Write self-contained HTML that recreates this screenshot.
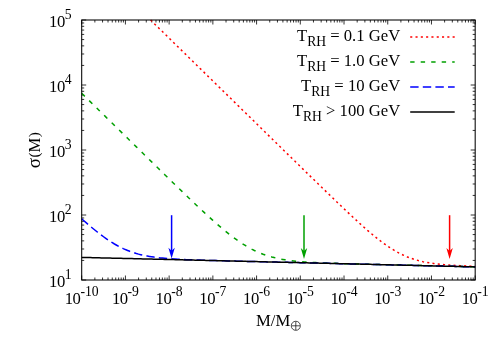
<!DOCTYPE html>
<html><head><meta charset="utf-8"><title>plot</title>
<style>html,body{margin:0;padding:0;background:#fff;}body{width:500px;height:350px;overflow:hidden;font-family:"Liberation Serif",serif;}</style>
</head><body>
<svg width="500" height="350" viewBox="0 0 500 350" style="display:block">
<defs><filter id="gf" x="0" y="0" width="500" height="350" filterUnits="userSpaceOnUse" color-interpolation-filters="sRGB"><feOffset dx="0" dy="0"/></filter></defs>
<rect width="500" height="350" fill="#fff"/>
<path d="M81.70,280.00v-4.50 M81.70,20.00v4.50 M94.86,280.00v-2.50 M94.86,20.00v2.50 M102.56,280.00v-2.50 M102.56,20.00v2.50 M108.02,280.00v-2.50 M108.02,20.00v2.50 M112.26,280.00v-2.50 M112.26,20.00v2.50 M115.72,280.00v-2.50 M115.72,20.00v2.50 M118.65,280.00v-2.50 M118.65,20.00v2.50 M121.18,280.00v-2.50 M121.18,20.00v2.50 M123.42,280.00v-2.50 M123.42,20.00v2.50 M125.42,280.00v-4.50 M125.42,20.00v4.50 M138.58,280.00v-2.50 M138.58,20.00v2.50 M146.28,280.00v-2.50 M146.28,20.00v2.50 M151.74,280.00v-2.50 M151.74,20.00v2.50 M155.98,280.00v-2.50 M155.98,20.00v2.50 M159.44,280.00v-2.50 M159.44,20.00v2.50 M162.37,280.00v-2.50 M162.37,20.00v2.50 M164.90,280.00v-2.50 M164.90,20.00v2.50 M167.14,280.00v-2.50 M167.14,20.00v2.50 M169.14,280.00v-4.50 M169.14,20.00v4.50 M182.30,280.00v-2.50 M182.30,20.00v2.50 M190.00,280.00v-2.50 M190.00,20.00v2.50 M195.46,280.00v-2.50 M195.46,20.00v2.50 M199.70,280.00v-2.50 M199.70,20.00v2.50 M203.16,280.00v-2.50 M203.16,20.00v2.50 M206.09,280.00v-2.50 M206.09,20.00v2.50 M208.62,280.00v-2.50 M208.62,20.00v2.50 M210.86,280.00v-2.50 M210.86,20.00v2.50 M212.86,280.00v-4.50 M212.86,20.00v4.50 M226.02,280.00v-2.50 M226.02,20.00v2.50 M233.72,280.00v-2.50 M233.72,20.00v2.50 M239.18,280.00v-2.50 M239.18,20.00v2.50 M243.42,280.00v-2.50 M243.42,20.00v2.50 M246.88,280.00v-2.50 M246.88,20.00v2.50 M249.81,280.00v-2.50 M249.81,20.00v2.50 M252.34,280.00v-2.50 M252.34,20.00v2.50 M254.58,280.00v-2.50 M254.58,20.00v2.50 M256.58,280.00v-4.50 M256.58,20.00v4.50 M269.74,280.00v-2.50 M269.74,20.00v2.50 M277.44,280.00v-2.50 M277.44,20.00v2.50 M282.90,280.00v-2.50 M282.90,20.00v2.50 M287.14,280.00v-2.50 M287.14,20.00v2.50 M290.60,280.00v-2.50 M290.60,20.00v2.50 M293.53,280.00v-2.50 M293.53,20.00v2.50 M296.06,280.00v-2.50 M296.06,20.00v2.50 M298.30,280.00v-2.50 M298.30,20.00v2.50 M300.30,280.00v-4.50 M300.30,20.00v4.50 M313.46,280.00v-2.50 M313.46,20.00v2.50 M321.16,280.00v-2.50 M321.16,20.00v2.50 M326.62,280.00v-2.50 M326.62,20.00v2.50 M330.86,280.00v-2.50 M330.86,20.00v2.50 M334.32,280.00v-2.50 M334.32,20.00v2.50 M337.25,280.00v-2.50 M337.25,20.00v2.50 M339.78,280.00v-2.50 M339.78,20.00v2.50 M342.02,280.00v-2.50 M342.02,20.00v2.50 M344.02,280.00v-4.50 M344.02,20.00v4.50 M357.18,280.00v-2.50 M357.18,20.00v2.50 M364.88,280.00v-2.50 M364.88,20.00v2.50 M370.34,280.00v-2.50 M370.34,20.00v2.50 M374.58,280.00v-2.50 M374.58,20.00v2.50 M378.04,280.00v-2.50 M378.04,20.00v2.50 M380.97,280.00v-2.50 M380.97,20.00v2.50 M383.50,280.00v-2.50 M383.50,20.00v2.50 M385.74,280.00v-2.50 M385.74,20.00v2.50 M387.74,280.00v-4.50 M387.74,20.00v4.50 M400.90,280.00v-2.50 M400.90,20.00v2.50 M408.60,280.00v-2.50 M408.60,20.00v2.50 M414.06,280.00v-2.50 M414.06,20.00v2.50 M418.30,280.00v-2.50 M418.30,20.00v2.50 M421.76,280.00v-2.50 M421.76,20.00v2.50 M424.69,280.00v-2.50 M424.69,20.00v2.50 M427.22,280.00v-2.50 M427.22,20.00v2.50 M429.46,280.00v-2.50 M429.46,20.00v2.50 M431.46,280.00v-4.50 M431.46,20.00v4.50 M444.62,280.00v-2.50 M444.62,20.00v2.50 M452.32,280.00v-2.50 M452.32,20.00v2.50 M457.78,280.00v-2.50 M457.78,20.00v2.50 M462.02,280.00v-2.50 M462.02,20.00v2.50 M465.48,280.00v-2.50 M465.48,20.00v2.50 M468.41,280.00v-2.50 M468.41,20.00v2.50 M470.94,280.00v-2.50 M470.94,20.00v2.50 M473.18,280.00v-2.50 M473.18,20.00v2.50 M475.18,280.00v-4.50 M475.18,20.00v4.50 M81.70,280.00h4.50 M475.18,280.00h-4.50 M81.70,260.43h2.50 M475.18,260.43h-2.50 M81.70,248.99h2.50 M475.18,248.99h-2.50 M81.70,240.87h2.50 M475.18,240.87h-2.50 M81.70,234.57h2.50 M475.18,234.57h-2.50 M81.70,229.42h2.50 M475.18,229.42h-2.50 M81.70,225.07h2.50 M475.18,225.07h-2.50 M81.70,221.30h2.50 M475.18,221.30h-2.50 M81.70,217.97h2.50 M475.18,217.97h-2.50 M81.70,215.00h4.50 M475.18,215.00h-4.50 M81.70,195.43h2.50 M475.18,195.43h-2.50 M81.70,183.99h2.50 M475.18,183.99h-2.50 M81.70,175.87h2.50 M475.18,175.87h-2.50 M81.70,169.57h2.50 M475.18,169.57h-2.50 M81.70,164.42h2.50 M475.18,164.42h-2.50 M81.70,160.07h2.50 M475.18,160.07h-2.50 M81.70,156.30h2.50 M475.18,156.30h-2.50 M81.70,152.97h2.50 M475.18,152.97h-2.50 M81.70,150.00h4.50 M475.18,150.00h-4.50 M81.70,130.43h2.50 M475.18,130.43h-2.50 M81.70,118.99h2.50 M475.18,118.99h-2.50 M81.70,110.87h2.50 M475.18,110.87h-2.50 M81.70,104.57h2.50 M475.18,104.57h-2.50 M81.70,99.42h2.50 M475.18,99.42h-2.50 M81.70,95.07h2.50 M475.18,95.07h-2.50 M81.70,91.30h2.50 M475.18,91.30h-2.50 M81.70,87.97h2.50 M475.18,87.97h-2.50 M81.70,85.00h4.50 M475.18,85.00h-4.50 M81.70,65.43h2.50 M475.18,65.43h-2.50 M81.70,53.99h2.50 M475.18,53.99h-2.50 M81.70,45.87h2.50 M475.18,45.87h-2.50 M81.70,39.57h2.50 M475.18,39.57h-2.50 M81.70,34.42h2.50 M475.18,34.42h-2.50 M81.70,30.07h2.50 M475.18,30.07h-2.50 M81.70,26.30h2.50 M475.18,26.30h-2.50 M81.70,22.97h2.50 M475.18,22.97h-2.50 M81.70,20.00h4.50 M475.18,20.00h-4.50" stroke="#000" stroke-width="0.8" fill="none"/>
<g fill="none" stroke-width="1.5">
<path d="M150.54,20.00 L151.65,21.08 L153.84,23.22 L156.02,25.36 L158.21,27.50 L160.40,29.64 L162.58,31.78 L164.77,33.91 L166.95,36.05 L169.14,38.19 L171.33,40.33 L173.51,42.47 L175.70,44.61 L177.88,46.74 L180.07,48.88 L182.26,51.02 L184.44,53.16 L186.63,55.30 L188.81,57.44 L191.00,59.57 L193.19,61.71 L195.37,63.85 L197.56,65.99 L199.74,68.13 L201.93,70.27 L204.12,72.41 L206.30,74.54 L208.49,76.68 L210.67,78.82 L212.86,80.96 L215.05,83.10 L217.23,85.24 L219.42,87.37 L221.60,89.51 L223.79,91.65 L225.98,93.79 L228.16,95.93 L230.35,98.07 L232.53,100.20 L234.72,102.34 L236.91,104.48 L239.09,106.62 L241.28,108.76 L243.46,110.90 L245.65,113.03 L247.84,115.17 L250.02,117.31 L252.21,119.45 L254.39,121.59 L256.58,123.73 L258.77,125.86 L260.95,128.00 L263.14,130.14 L265.32,132.28 L267.51,134.42 L269.70,136.55 L271.88,138.69 L274.07,140.83 L276.25,142.97 L278.44,145.10 L280.63,147.24 L282.81,149.38 L285.00,151.51 L287.18,153.65 L289.37,155.79 L291.56,157.92 L293.74,160.06 L295.93,162.19 L298.11,164.33 L300.30,166.46 L302.49,168.60 L304.67,170.73 L306.86,172.86 L309.04,174.99 L311.23,177.12 L313.42,179.25 L315.60,181.38 L317.79,183.51 L319.97,185.63 L322.16,187.75 L324.35,189.87 L326.53,191.99 L328.72,194.11 L330.90,196.22 L333.09,198.33 L335.28,200.43 L337.46,202.53 L339.65,204.62 L341.83,206.71 L344.02,208.79 L346.21,210.86 L348.39,212.92 L350.58,214.97 L352.76,217.01 L354.95,219.04 L357.14,221.05 L359.32,223.04 L361.51,225.02 L363.69,226.97 L365.88,228.90 L368.07,230.81 L370.25,232.68 L372.44,234.52 L374.62,236.33 L376.81,238.09 L379.00,239.82 L381.18,241.49 L383.37,243.12 L385.55,244.70 L387.74,246.21 L389.93,247.67 L392.11,249.06 L394.30,250.39 L396.48,251.66 L398.67,252.85 L400.86,253.97 L403.04,255.03 L405.23,256.01 L407.41,256.93 L409.60,257.77 L411.79,258.56 L413.97,259.28 L416.16,259.94 L418.34,260.55 L420.53,261.10 L422.72,261.61 L424.90,262.06 L427.09,262.48 L429.27,262.86 L431.46,263.20 L433.65,263.51 L435.83,263.79 L438.02,264.05 L440.20,264.28 L442.39,264.50 L444.58,264.69 L446.76,264.87 L448.95,265.03 L451.13,265.18 L453.32,265.31 L455.51,265.44 L457.69,265.56 L459.88,265.67 L462.06,265.77 L464.25,265.87 L466.44,265.96 L468.62,266.05 L470.81,266.13 L472.99,266.21 L475.18,266.29" stroke="#ff0000" stroke-dasharray="2.1 3.2"/>
<path d="M81.70,93.28 L83.89,95.42 L86.07,97.57 L88.26,99.71 L90.44,101.86 L92.63,104.00 L94.82,106.15 L97.00,108.29 L99.19,110.43 L101.37,112.58 L103.56,114.72 L105.75,116.87 L107.93,119.01 L110.12,121.16 L112.30,123.30 L114.49,125.44 L116.68,127.59 L118.86,129.73 L121.05,131.87 L123.23,134.02 L125.42,136.16 L127.61,138.30 L129.79,140.45 L131.98,142.59 L134.16,144.73 L136.35,146.87 L138.54,149.02 L140.72,151.16 L142.91,153.30 L145.09,155.44 L147.28,157.58 L149.47,159.72 L151.65,161.86 L153.84,163.99 L156.02,166.13 L158.21,168.27 L160.40,170.40 L162.58,172.53 L164.77,174.67 L166.95,176.80 L169.14,178.93 L171.33,181.05 L173.51,183.18 L175.70,185.30 L177.88,187.41 L180.07,189.53 L182.26,191.64 L184.44,193.75 L186.63,195.85 L188.81,197.94 L191.00,200.03 L193.19,202.12 L195.37,204.19 L197.56,206.26 L199.74,208.31 L201.93,210.35 L204.12,212.39 L206.30,214.40 L208.49,216.40 L210.67,218.39 L212.86,220.35 L215.05,222.30 L217.23,224.21 L219.42,226.11 L221.60,227.97 L223.79,229.80 L225.98,231.60 L228.16,233.36 L230.35,235.08 L232.53,236.75 L234.72,238.38 L236.91,239.96 L239.09,241.49 L241.28,242.96 L243.46,244.37 L245.65,245.72 L247.84,247.01 L250.02,248.24 L252.21,249.40 L254.39,250.49 L256.58,251.52 L258.77,252.49 L260.95,253.39 L263.14,254.23 L265.32,255.01 L267.51,255.74 L269.70,256.40 L271.88,257.02 L274.07,257.58 L276.25,258.10 L278.44,258.58 L280.63,259.01 L282.81,259.41 L285.00,259.77 L287.18,260.10 L289.37,260.40 L291.56,260.68 L293.74,260.93 L295.93,261.16 L298.11,261.38 L300.30,261.57 L302.49,261.75 L304.67,261.91 L306.86,262.07 L309.04,262.21 L311.23,262.34 L313.42,262.46 L315.60,262.58 L317.79,262.68 L319.97,262.78 L322.16,262.88 L324.35,262.97 L326.53,263.06 L328.72,263.14 L330.90,263.22 L333.09,263.29 L335.28,263.37 L337.46,263.44 L339.65,263.51 L341.83,263.57 L344.02,263.64 L346.21,263.70 L348.39,263.77 L350.58,263.83 L352.76,263.89 L354.95,263.95 L357.14,264.01 L359.32,264.06 L361.51,264.12 L363.69,264.18 L365.88,264.23 L368.07,264.29 L370.25,264.35 L372.44,264.40 L374.62,264.46 L376.81,264.51 L379.00,264.56 L381.18,264.62 L383.37,264.67 L385.55,264.73 L387.74,264.78 L389.93,264.83 L392.11,264.89 L394.30,264.94 L396.48,265.00 L398.67,265.05 L400.86,265.10 L403.04,265.16 L405.23,265.21 L407.41,265.26 L409.60,265.31 L411.79,265.37 L413.97,265.42 L416.16,265.47 L418.34,265.53 L420.53,265.58 L422.72,265.63 L424.90,265.69 L427.09,265.74 L429.27,265.79 L431.46,265.84 L433.65,265.90 L435.83,265.95 L438.02,266.00 L440.20,266.06 L442.39,266.11 L444.58,266.16 L446.76,266.21 L448.95,266.27 L451.13,266.32 L453.32,266.37 L455.51,266.42 L457.69,266.48 L459.88,266.53 L462.06,266.58 L464.25,266.64 L466.44,266.69 L468.62,266.74 L470.81,266.79 L472.99,266.85 L475.18,266.90" stroke="#00a000" stroke-dasharray="4.4 6.1"/>
<path d="M81.70,218.79 L83.89,220.73 L86.07,222.65 L88.26,224.54 L90.44,226.40 L92.63,228.23 L94.82,230.03 L97.00,231.78 L99.19,233.49 L101.37,235.15 L103.56,236.77 L105.75,238.33 L107.93,239.83 L110.12,241.28 L112.30,242.66 L114.49,243.98 L116.68,245.23 L118.86,246.42 L121.05,247.53 L123.23,248.58 L125.42,249.56 L127.61,250.47 L129.79,251.32 L131.98,252.11 L134.16,252.83 L136.35,253.50 L138.54,254.11 L140.72,254.66 L142.91,255.17 L145.09,255.64 L147.28,256.06 L149.47,256.44 L151.65,256.79 L153.84,257.11 L156.02,257.40 L158.21,257.66 L160.40,257.90 L162.58,258.12 L164.77,258.32 L166.95,258.50 L169.14,258.67 L171.33,258.82 L173.51,258.97 L175.70,259.10 L177.88,259.22 L180.07,259.33 L182.26,259.44 L184.44,259.54 L186.63,259.63 L188.81,259.72 L191.00,259.81 L193.19,259.89 L195.37,259.97 L197.56,260.04 L199.74,260.11 L201.93,260.18 L204.12,260.25 L206.30,260.32 L208.49,260.38 L210.67,260.44 L212.86,260.50 L215.05,260.56 L217.23,260.62 L219.42,260.68 L221.60,260.74 L223.79,260.80 L225.98,260.85 L228.16,260.91 L230.35,260.97 L232.53,261.02 L234.72,261.08 L236.91,261.13 L239.09,261.19 L241.28,261.24 L243.46,261.30 L245.65,261.35 L247.84,261.40 L250.02,261.46 L252.21,261.51 L254.39,261.56 L256.58,261.62 L258.77,261.67 L260.95,261.72 L263.14,261.78 L265.32,261.83 L267.51,261.88 L269.70,261.94 L271.88,261.99 L274.07,262.04 L276.25,262.10 L278.44,262.15 L280.63,262.20 L282.81,262.25 L285.00,262.31 L287.18,262.36 L289.37,262.41 L291.56,262.47 L293.74,262.52 L295.93,262.57 L298.11,262.62 L300.30,262.68 L302.49,262.73 L304.67,262.78 L306.86,262.84 L309.04,262.89 L311.23,262.94 L313.42,262.99 L315.60,263.05 L317.79,263.10 L319.97,263.15 L322.16,263.21 L324.35,263.26 L326.53,263.31 L328.72,263.36 L330.90,263.42 L333.09,263.47 L335.28,263.52 L337.46,263.57 L339.65,263.63 L341.83,263.68 L344.02,263.73 L346.21,263.79 L348.39,263.84 L350.58,263.89 L352.76,263.94 L354.95,264.00 L357.14,264.05 L359.32,264.10 L361.51,264.16 L363.69,264.21 L365.88,264.26 L368.07,264.31 L370.25,264.37 L372.44,264.42 L374.62,264.47 L376.81,264.52 L379.00,264.58 L381.18,264.63 L383.37,264.68 L385.55,264.74 L387.74,264.79 L389.93,264.84 L392.11,264.89 L394.30,264.95 L396.48,265.00 L398.67,265.05 L400.86,265.11 L403.04,265.16 L405.23,265.21 L407.41,265.26 L409.60,265.32 L411.79,265.37 L413.97,265.42 L416.16,265.47 L418.34,265.53 L420.53,265.58 L422.72,265.63 L424.90,265.69 L427.09,265.74 L429.27,265.79 L431.46,265.84 L433.65,265.90 L435.83,265.95 L438.02,266.00 L440.20,266.06 L442.39,266.11 L444.58,266.16 L446.76,266.21 L448.95,266.27 L451.13,266.32 L453.32,266.37 L455.51,266.42 L457.69,266.48 L459.88,266.53 L462.06,266.58 L464.25,266.64 L466.44,266.69 L468.62,266.74 L470.81,266.79 L472.99,266.85 L475.18,266.90" stroke="#0000ff" stroke-dasharray="8.4 4.2"/>
<path d="M81.70,257.40 L83.89,257.45 L86.07,257.51 L88.26,257.56 L90.44,257.61 L92.63,257.66 L94.82,257.72 L97.00,257.77 L99.19,257.82 L101.37,257.88 L103.56,257.93 L105.75,257.98 L107.93,258.03 L110.12,258.09 L112.30,258.14 L114.49,258.19 L116.68,258.24 L118.86,258.30 L121.05,258.35 L123.23,258.40 L125.42,258.46 L127.61,258.51 L129.79,258.56 L131.98,258.61 L134.16,258.67 L136.35,258.72 L138.54,258.77 L140.72,258.82 L142.91,258.88 L145.09,258.93 L147.28,258.98 L149.47,259.04 L151.65,259.09 L153.84,259.14 L156.02,259.19 L158.21,259.25 L160.40,259.30 L162.58,259.35 L164.77,259.41 L166.95,259.46 L169.14,259.51 L171.33,259.56 L173.51,259.62 L175.70,259.67 L177.88,259.72 L180.07,259.77 L182.26,259.83 L184.44,259.88 L186.63,259.93 L188.81,259.99 L191.00,260.04 L193.19,260.09 L195.37,260.14 L197.56,260.20 L199.74,260.25 L201.93,260.30 L204.12,260.36 L206.30,260.41 L208.49,260.46 L210.67,260.51 L212.86,260.57 L215.05,260.62 L217.23,260.67 L219.42,260.72 L221.60,260.78 L223.79,260.83 L225.98,260.88 L228.16,260.94 L230.35,260.99 L232.53,261.04 L234.72,261.09 L236.91,261.15 L239.09,261.20 L241.28,261.25 L243.46,261.31 L245.65,261.36 L247.84,261.41 L250.02,261.46 L252.21,261.52 L254.39,261.57 L256.58,261.62 L258.77,261.67 L260.95,261.73 L263.14,261.78 L265.32,261.83 L267.51,261.89 L269.70,261.94 L271.88,261.99 L274.07,262.04 L276.25,262.10 L278.44,262.15 L280.63,262.20 L282.81,262.26 L285.00,262.31 L287.18,262.36 L289.37,262.41 L291.56,262.47 L293.74,262.52 L295.93,262.57 L298.11,262.62 L300.30,262.68 L302.49,262.73 L304.67,262.78 L306.86,262.84 L309.04,262.89 L311.23,262.94 L313.42,262.99 L315.60,263.05 L317.79,263.10 L319.97,263.15 L322.16,263.21 L324.35,263.26 L326.53,263.31 L328.72,263.36 L330.90,263.42 L333.09,263.47 L335.28,263.52 L337.46,263.57 L339.65,263.63 L341.83,263.68 L344.02,263.73 L346.21,263.79 L348.39,263.84 L350.58,263.89 L352.76,263.94 L354.95,264.00 L357.14,264.05 L359.32,264.10 L361.51,264.16 L363.69,264.21 L365.88,264.26 L368.07,264.31 L370.25,264.37 L372.44,264.42 L374.62,264.47 L376.81,264.52 L379.00,264.58 L381.18,264.63 L383.37,264.68 L385.55,264.74 L387.74,264.79 L389.93,264.84 L392.11,264.89 L394.30,264.95 L396.48,265.00 L398.67,265.05 L400.86,265.11 L403.04,265.16 L405.23,265.21 L407.41,265.26 L409.60,265.32 L411.79,265.37 L413.97,265.42 L416.16,265.47 L418.34,265.53 L420.53,265.58 L422.72,265.63 L424.90,265.69 L427.09,265.74 L429.27,265.79 L431.46,265.84 L433.65,265.90 L435.83,265.95 L438.02,266.00 L440.20,266.06 L442.39,266.11 L444.58,266.16 L446.76,266.21 L448.95,266.27 L451.13,266.32 L453.32,266.37 L455.51,266.42 L457.69,266.48 L459.88,266.53 L462.06,266.58 L464.25,266.64 L466.44,266.69 L468.62,266.74 L470.81,266.79 L472.99,266.85 L475.18,266.90" stroke="#000"/>
<path d="M410.2,37H454.7" stroke="#ff0000" stroke-dasharray="2.1 3.2"/>
<path d="M410.2,62H454.7" stroke="#00a000" stroke-dasharray="4.4 6.1"/>
<path d="M410.2,87H454.7" stroke="#0000ff" stroke-dasharray="8.4 4.2"/>
<path d="M410.2,112H454.7" stroke="#000"/>
</g>
<path d="M171.60,215.2V252.60" stroke="#0000ff" stroke-width="1.5" fill="none"/>
<path d="M171.60,258.60 l-3.2,-10.9 l3.2,3 l3.2,-3z" fill="#0000ff"/>
<path d="M304.00,215.2V252.90" stroke="#00a000" stroke-width="1.5" fill="none"/>
<path d="M304.00,258.90 l-3.2,-10.9 l3.2,3 l3.2,-3z" fill="#00a000"/>
<path d="M449.60,215.2V252.90" stroke="#ff0000" stroke-width="1.5" fill="none"/>
<path d="M449.60,258.90 l-3.2,-10.9 l3.2,3 l3.2,-3z" fill="#ff0000"/>
<rect x="81.70" y="20.00" width="393.48" height="260.00" fill="none" stroke="#000" stroke-width="1.05"/>
<g font-family="Liberation Serif, serif" font-size="16.67" fill="#000" filter="url(#gf)">
<text x="71.6" y="287.20" text-anchor="end"><tspan letter-spacing="-0.5">10</tspan><tspan font-size="13.7" dy="-8.33">1</tspan></text>
<text x="71.6" y="222.20" text-anchor="end"><tspan letter-spacing="-0.5">10</tspan><tspan font-size="13.7" dy="-8.33">2</tspan></text>
<text x="71.6" y="157.20" text-anchor="end"><tspan letter-spacing="-0.5">10</tspan><tspan font-size="13.7" dy="-8.33">3</tspan></text>
<text x="71.6" y="92.20" text-anchor="end"><tspan letter-spacing="-0.5">10</tspan><tspan font-size="13.7" dy="-8.33">4</tspan></text>
<text x="71.6" y="27.20" text-anchor="end"><tspan letter-spacing="-0.5">10</tspan><tspan font-size="13.7" dy="-8.33">5</tspan></text>
<text x="81.70" y="304" text-anchor="middle"><tspan letter-spacing="-0.5">10</tspan><tspan font-size="13.7" dy="-8.33">-10</tspan></text>
<text x="125.42" y="304" text-anchor="middle"><tspan letter-spacing="-0.5">10</tspan><tspan font-size="13.7" dy="-8.33">-9</tspan></text>
<text x="169.14" y="304" text-anchor="middle"><tspan letter-spacing="-0.5">10</tspan><tspan font-size="13.7" dy="-8.33">-8</tspan></text>
<text x="212.86" y="304" text-anchor="middle"><tspan letter-spacing="-0.5">10</tspan><tspan font-size="13.7" dy="-8.33">-7</tspan></text>
<text x="256.58" y="304" text-anchor="middle"><tspan letter-spacing="-0.5">10</tspan><tspan font-size="13.7" dy="-8.33">-6</tspan></text>
<text x="300.30" y="304" text-anchor="middle"><tspan letter-spacing="-0.5">10</tspan><tspan font-size="13.7" dy="-8.33">-5</tspan></text>
<text x="344.02" y="304" text-anchor="middle"><tspan letter-spacing="-0.5">10</tspan><tspan font-size="13.7" dy="-8.33">-4</tspan></text>
<text x="387.74" y="304" text-anchor="middle"><tspan letter-spacing="-0.5">10</tspan><tspan font-size="13.7" dy="-8.33">-3</tspan></text>
<text x="431.46" y="304" text-anchor="middle"><tspan letter-spacing="-0.5">10</tspan><tspan font-size="13.7" dy="-8.33">-2</tspan></text>
<text x="475.18" y="304" text-anchor="middle"><tspan letter-spacing="-0.5">10</tspan><tspan font-size="13.7" dy="-8.33">-1</tspan></text>
<text transform="translate(40,150.2) rotate(-90)" text-anchor="middle"><tspan font-size="19">σ</tspan><tspan font-size="15.4" dy="-1" dx="0.4">(</tspan><tspan dy="1">M</tspan><tspan font-size="15.4" dy="-1" dx="0.4">)</tspan></text>
<text x="256" y="326">M/M</text>
<g stroke="#000" stroke-width="0.7" fill="none"><circle cx="295.8" cy="325.8" r="4.55"/><path d="M291.6,325.8h8.4M295.8,321.6v8.4"/></g>
<text x="400.2" y="41" text-anchor="end">T<tspan font-size="13.6" dy="5">RH</tspan><tspan dy="-5"> = 0.1 GeV</tspan></text>
<text x="400.2" y="66" text-anchor="end">T<tspan font-size="13.6" dy="5">RH</tspan><tspan dy="-5"> = 1.0 GeV</tspan></text>
<text x="400.2" y="91" text-anchor="end">T<tspan font-size="13.6" dy="5">RH</tspan><tspan dy="-5"> = 10 GeV</tspan></text>
<text x="400.2" y="116" text-anchor="end">T<tspan font-size="13.6" dy="5">RH</tspan><tspan dy="-5"> &gt; 100 GeV</tspan></text>
</g>
</svg>
</body></html>
